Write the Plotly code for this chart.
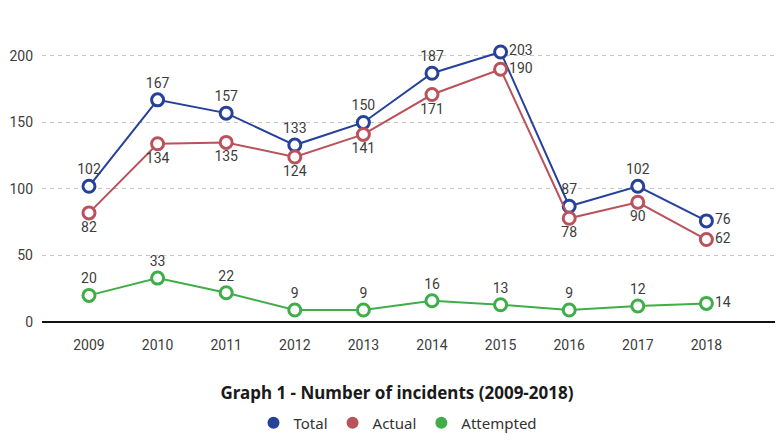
import plotly.graph_objects as go

years = [2009, 2010, 2011, 2012, 2013, 2014, 2015, 2016, 2017, 2018]
total = [102, 167, 157, 133, 150, 187, 203, 87, 102, 76]
actual = [82, 134, 135, 124, 141, 171, 190, 78, 90, 62]
attempted = [20, 33, 22, 9, 9, 16, 13, 9, 12, 14]

series = [
    ("Total", total, "#26419a",
     ["top center"] * 6 + ["middle right", "top center", "top center", "middle right"]),
    ("Actual", actual, "#b9525b",
     ["bottom center"] * 6 + ["middle right", "bottom center", "bottom center", "middle right"]),
    ("Attempted", attempted, "#3fae49",
     ["top center"] * 9 + ["middle right"]),
]

NUM_FONT = "Roboto, Liberation Sans, sans-serif"
lab_font = dict(family=NUM_FONT, size=14, color="#3c3c3c")

fig = go.Figure()
for name, vals, col, pos in series:
    fig.add_trace(go.Scatter(
        x=years, y=vals, mode="lines+markers+text", name=name,
        text=[str(v) for v in vals], textposition=pos, textfont=lab_font,
        line=dict(color=col, width=2),
        marker=dict(symbol="circle", size=12, color="white", line=dict(color=col, width=3)),
        showlegend=False, cliponaxis=False,
    ))
for name, vals, col, pos in series:
    fig.add_trace(go.Scatter(
        x=[None], y=[None], mode="markers", name=name,
        marker=dict(symbol="circle", size=9, color=col),
        showlegend=True,
    ))

H = 436
T, B = 30, 114

fig.update_layout(
    width=777, height=H,
    margin=dict(l=42, r=2, t=T, b=B, autoexpand=False),
    plot_bgcolor="white", paper_bgcolor="white",
    font=dict(family=NUM_FONT, size=14, color="#3c3c3c"),
    xaxis=dict(range=[2008.315, 2019.0], tickmode="array", tickvals=years,
               ticktext=[str(y) for y in years], showgrid=False, zeroline=False,
               showline=False, ticks="", ticklabelstandoff=13,
               tickfont=dict(family=NUM_FONT, size=14, color="#3c3c3c")),
    yaxis=dict(range=[0, 219.5], tickvals=[0, 50, 100, 150, 200], showgrid=True,
               gridcolor="#c4c4c4", griddash="4px,4px", gridwidth=1, zeroline=True,
               zerolinecolor="#111111", zerolinewidth=2, ticks="", ticklen=0,
               ticklabelstandoff=8,
               tickfont=dict(family=NUM_FONT, size=14, color="#3c3c3c")),
    title=dict(text="<b>Graph 1 - Number of incidents (2009-2018)</b>", x=397 / 777, xanchor="center",
               y=1 - 393 / H, yref="container", yanchor="middle",
               font=dict(family="Noto Sans, Open Sans, sans-serif", size=17, color="#1a1a1a")),
    legend=dict(orientation="h", x=398 / 777, xref="container", xanchor="center",
                y=1 - 423 / H, yref="container", yanchor="middle",
                font=dict(family="Noto Sans, Open Sans, sans-serif", size=15, color="#333333"),
                itemsizing="constant", traceorder="normal"),
)

fig.write_html("out.html")
